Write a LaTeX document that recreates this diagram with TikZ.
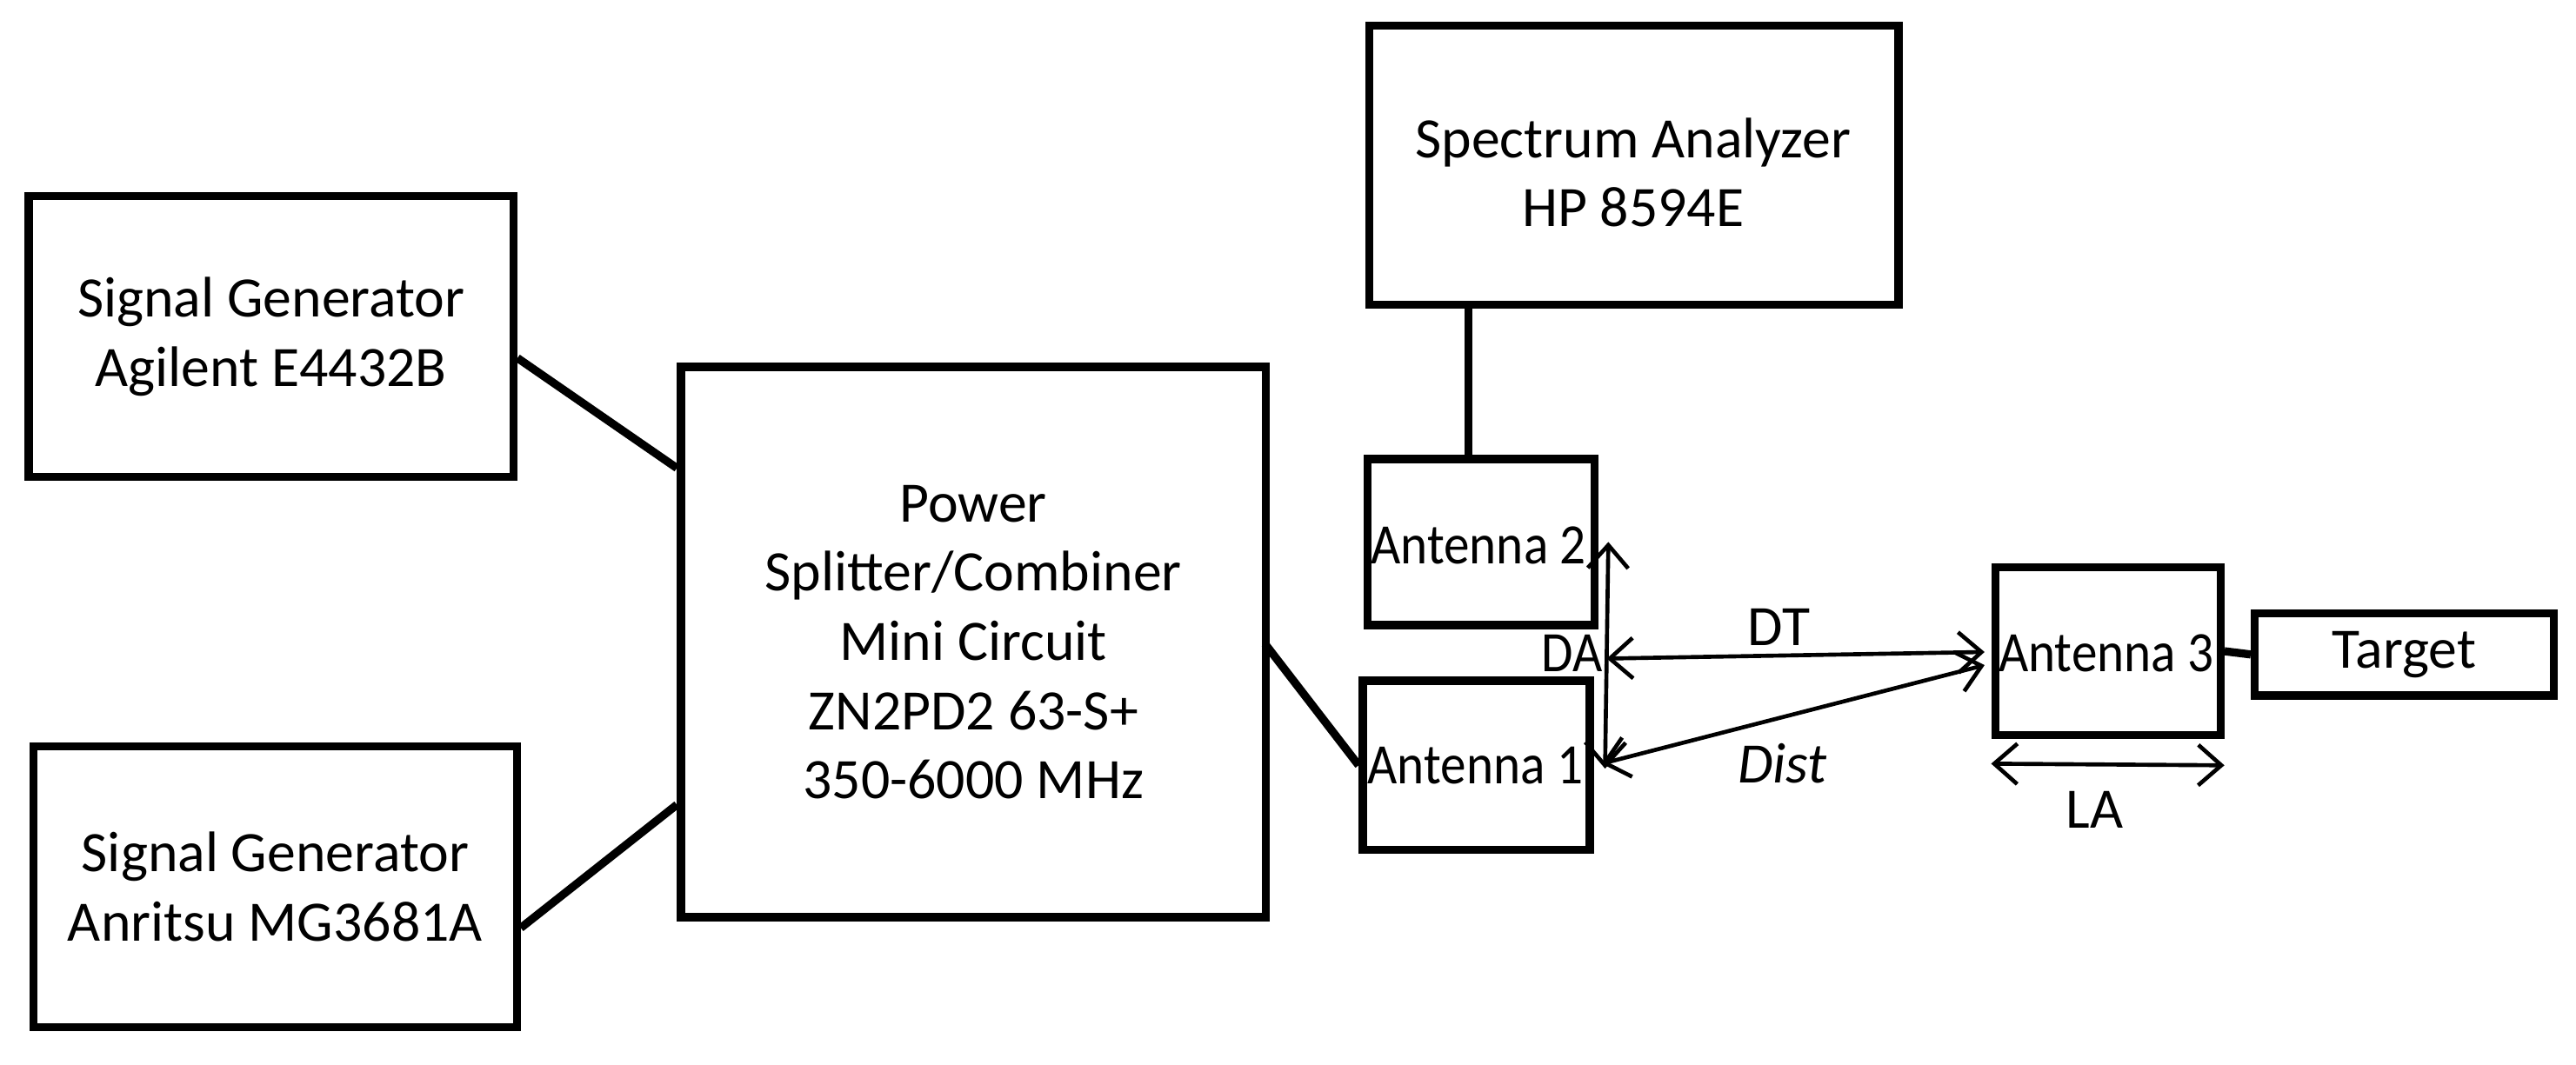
\documentclass[tikz,border=0pt]{standalone}
\usepackage{fontspec}
\setmainfont{Carlito}
\usetikzlibrary{arrows.meta}
\begin{document}
\begin{tikzpicture}[x=0.01cm,y=-0.01cm,
  box/.style={draw,line width=1.4pt,inner sep=0pt,align=center,font=\fontsize{9.9}{12}\selectfont},
  wire/.style={line width=1.4pt},
  dim/.style={line width=0.7pt,{Straight Barb[length=4pt,width=7pt]}-{Straight Barb[length=4pt,width=7pt]}},
  lbl/.style={font=\fontsize{9.9}{12}\selectfont},
  ant/.style={font=\fontsize{9.9}{12}\selectfont,xscale=0.9}]
\useasboundingbox (0,0) rectangle (1568,648);
\newcommand\bx[6]{\node[box,minimum width=#4*0.01cm-1.4pt,minimum height=#5*0.01cm-1.4pt] (#1) at (#2+#4/2,#3+#5/2) {#6};}
\bx{sg1}{15}{117}{300}{176}{Signal Generator\\Agilent E4432B}
\bx{sg2}{18}{452}{299}{176}{Signal Generator\\Anritsu MG3681A}
\bx{ps}{412}{221}{361}{340}{Power\\Splitter/Combiner\\Mini Circuit\\ZN2PD2 63-S+\\350-6000 MHz}
\bx{sa}{831}{13}{327}{175}{}
\node[lbl,align=center] at (994,105) {Spectrum Analyzer\\HP 8594E};
\node[box,minimum width=1.43cm-1.4pt,minimum height=1.06cm-1.4pt,anchor=north west] (a2) at (830,277) {};
\node[ant] at (900,332) {Antenna 2};
\node[box,minimum width=1.43cm-1.4pt,minimum height=1.08cm-1.4pt,anchor=north west] (a1) at (827,412) {};
\node[ant] at (898,466) {Antenna 1};
\node[box,minimum width=1.42cm-1.4pt,minimum height=1.07cm-1.4pt,anchor=north west] (a3) at (1212,343) {};
\node[ant] at (1282,398) {Antenna 3};
\bx{tg}{1370}{371}{187}{55}{Target}
\coordinate (p1) at (315,218); \coordinate (p2) at (412,285);
\coordinate (p3) at (317,565); \coordinate (p4) at (412,490);
\coordinate (p5) at (770,392); \coordinate (p6) at (827,466);
\draw[wire] (p1)--(p2); \draw[wire] (p3)--(p4); \draw[wire] (p5)--(p6);
\draw[wire] (sa.south -| 894,0)--(894,277);
\draw[wire] (a3.east)--(tg.west);
\coordinate (da1) at (979,330); \coordinate (da2) at (977,468);
\coordinate (dt1) at (978,401); \coordinate (dt2) at (1208,397);
\coordinate (di1) at (975,465); \coordinate (di2) at (1208,405);
\coordinate (la1) at (1212,465); \coordinate (la2) at (1354,466);
\draw[dim] (da1)--(da2); \draw[dim] (dt1)--(dt2); \draw[dim] (di1)--(di2); \draw[dim] (la1)--(la2);
\node[ant] (da) at (957,398) {DA};
\node[lbl] (dt) at (1083,382) {DT};
\node[lbl,font=\fontsize{9.9}{12}\itshape] (di) at (1085,465) {Dist};
\node[lbl] (la) at (1275,493) {LA};
\end{tikzpicture}
\end{document}
